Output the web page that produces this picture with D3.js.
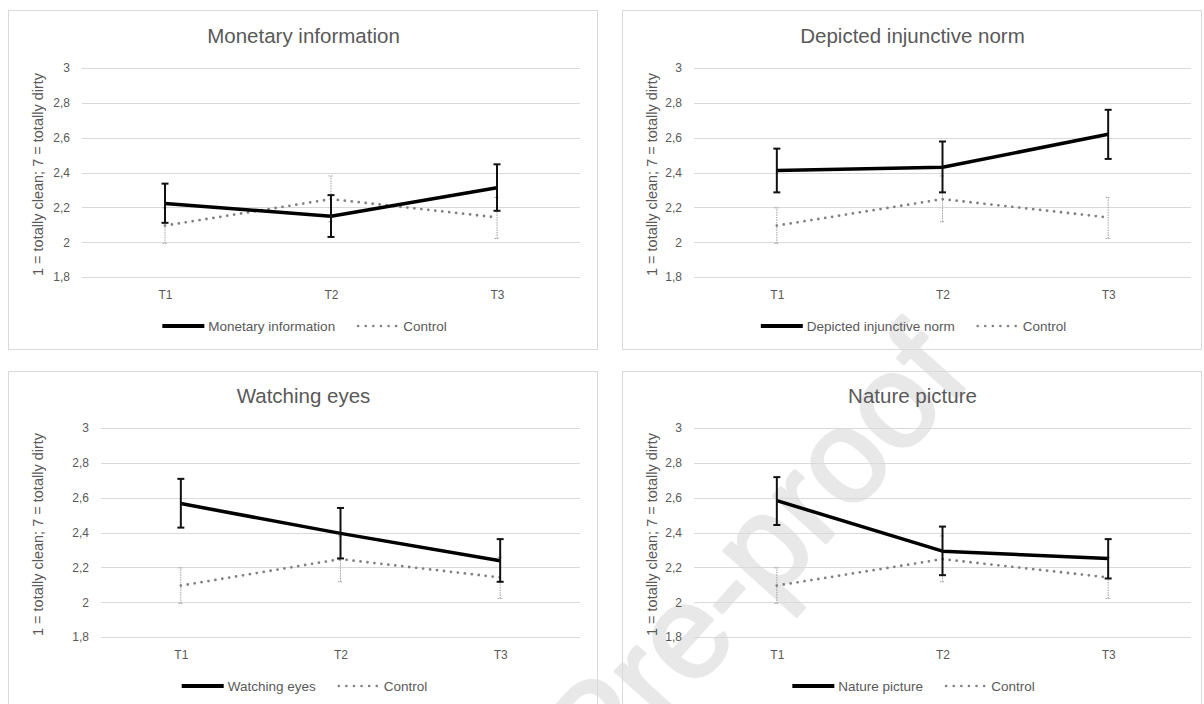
<!DOCTYPE html>
<html>
<head>
<meta charset="utf-8">
<script src="https://cdn.jsdelivr.net/npm/d3@7"></script>
<style>
  body { margin: 0; background: #fff; }
  svg { display: block; font-family: "Liberation Sans", Arial, sans-serif; }
</style>
</head>
<body>
<svg id="chart" width="1204" height="704"></svg>
<script>
var times = ["T1", "T2", "T3"];
var yTicks = [1.8, 2, 2.2, 2.4, 2.6, 2.8, 3];

var controlName = "Control";
var controlMean = [2.095, 2.247, 2.142];
var controlLow = [1.993, 2.117, 2.021];
var controlHigh = [2.197, 2.38, 2.257];

var titles = ["Monetary information", "Depicted injunctive norm", "Watching eyes", "Nature picture"];

var monetaryMean = [2.222, 2.149, 2.313];
var monetaryLow = [2.111, 2.03, 2.18];
var monetaryHigh = [2.336, 2.27, 2.447];

var injunctiveMean = [2.411, 2.43, 2.62];
var injunctiveLow = [2.286, 2.286, 2.478];
var injunctiveHigh = [2.537, 2.578, 2.76];

var eyesMean = [2.566, 2.395, 2.238];
var eyesLow = [2.428, 2.251, 2.117];
var eyesHigh = [2.708, 2.541, 2.362];

var natureMean = [2.583, 2.293, 2.251];
var natureLow = [2.443, 2.155, 2.136];
var natureHigh = [2.718, 2.434, 2.362];

var yLabel = "1 = totally clean; 7 = totally dirty";
var watermark = "Pre-proof";

var seriesSets = [
  [monetaryMean, monetaryLow, monetaryHigh],
  [injunctiveMean, injunctiveLow, injunctiveHigh],
  [eyesMean, eyesLow, eyesHigh],
  [natureMean, natureLow, natureHigh]
];

// panel layout (pixels)
var panels = [
  { bx: 8, by: 10, bw: 589, bh: 339, pl: 82, pr: 580, yl: 38, dy: 0 },
  { bx: 622, by: 10, bw: 579, bh: 339, pl: 694, pr: 1191, yl: 652, dy: 0 },
  { bx: 8, by: 371, bw: 589, bh: 345, pl: 101, pr: 580, yl: 38, dy: 360 },
  { bx: 622, by: 371, bw: 579, bh: 345, pl: 694, pr: 1191, yl: 652, dy: 360 }
];

var textColor = "#595959";
var gridColor = "#d9d9d9";
var svg = d3.select("#chart");

// watermark sits behind the data
var wm = svg.append("g").attr("class", "watermark");

function fmt(v) { return String(v).replace(".", ","); }

panels.forEach(function (p, i) {
  var g = svg.append("g");
  var top = 68 + p.dy, bottom = 277 + p.dy;

  g.append("rect")
    .attr("x", p.bx + 0.5).attr("y", p.by + 0.5)
    .attr("width", p.bw).attr("height", p.bh)
    .attr("fill", "none").attr("stroke", gridColor).attr("stroke-width", 1);

  var x = d3.scalePoint().domain(times).range([p.pl, p.pr]).padding(0.5);
  var y = d3.scaleLinear().domain([1.8, 3]).range([bottom, top]);

  // gridlines
  g.append("g").selectAll("line").data(yTicks).enter().append("line")
    .attr("x1", p.pl).attr("x2", p.pr)
    .attr("y1", function (d) { return Math.round(y(d)) + 0.5; })
    .attr("y2", function (d) { return Math.round(y(d)) + 0.5; })
    .attr("stroke", gridColor).attr("stroke-width", 1.2);

  // y axis
  var yAxis = g.append("g")
    .attr("transform", "translate(" + (p.pl - 12) + ",0)")
    .call(d3.axisLeft(y).tickValues(yTicks).tickSize(0).tickPadding(0).tickFormat(fmt));
  yAxis.select(".domain").remove();
  yAxis.selectAll("text").attr("fill", textColor).style("font-size", "12px")
    .style("font-family", "Liberation Sans, Arial, sans-serif");

  // x axis
  var xAxis = g.append("g")
    .attr("transform", "translate(0," + (bottom + 18) + ")")
    .call(d3.axisBottom(x).tickSize(0).tickPadding(0));
  xAxis.select(".domain").remove();
  xAxis.selectAll("text").attr("fill", textColor).attr("dy", "0.32em").style("font-size", "12px")
    .style("font-family", "Liberation Sans, Arial, sans-serif");

  // y axis title
  g.append("text")
    .attr("transform", "translate(" + p.yl + "," + ((top + bottom) / 2 + 2) + ") rotate(-90)")
    .attr("text-anchor", "middle").attr("dy", "0.35em")
    .attr("fill", textColor).style("font-size", "14.5px")
    .text(yLabel);

  // title
  g.append("text")
    .attr("x", p.bx + p.bw / 2 + 1).attr("y", 43 + p.dy)
    .attr("text-anchor", "middle")
    .attr("fill", textColor).style("font-size", "20.5px")
    .text(titles[i]);

  var line = d3.line()
    .x(function (d, k) { return x(times[k]); })
    .y(function (d) { return y(d); });

  // control series
  var cErr = g.append("g").selectAll("g").data(times).enter().append("g")
    .attr("stroke", "#a0a0a0").attr("stroke-width", 1).attr("stroke-dasharray", "1.5,1");
  cErr.append("line")
    .attr("x1", function (d) { return x(d); }).attr("x2", function (d) { return x(d); })
    .attr("y1", function (d, k) { return y(controlLow[k]); })
    .attr("y2", function (d, k) { return y(controlHigh[k]); });
  cErr.append("line")
    .attr("x1", function (d) { return x(d) - 2.5; }).attr("x2", function (d) { return x(d) + 2.5; })
    .attr("y1", function (d, k) { return y(controlLow[k]); })
    .attr("y2", function (d, k) { return y(controlLow[k]); });
  cErr.append("line")
    .attr("x1", function (d) { return x(d) - 2.5; }).attr("x2", function (d) { return x(d) + 2.5; })
    .attr("y1", function (d, k) { return y(controlHigh[k]); })
    .attr("y2", function (d, k) { return y(controlHigh[k]); });

  g.append("path").datum(controlMean)
    .attr("d", line).attr("fill", "none")
    .attr("stroke", "#808080").attr("stroke-width", 2.8)
    .attr("stroke-linecap", "round").attr("stroke-dasharray", "0,7");

  // treatment series
  var s = seriesSets[i];
  g.append("path").datum(s[0])
    .attr("d", line).attr("fill", "none")
    .attr("stroke", "#000").attr("stroke-width", 3.5)
    .attr("stroke-linejoin", "round");

  var tErr = g.append("g").selectAll("g").data(times).enter().append("g")
    .attr("stroke", "#111").attr("stroke-width", 2);
  tErr.append("line")
    .attr("x1", function (d) { return x(d); }).attr("x2", function (d) { return x(d); })
    .attr("y1", function (d, k) { return y(s[1][k]); })
    .attr("y2", function (d, k) { return y(s[2][k]); });
  tErr.append("line")
    .attr("x1", function (d) { return x(d) - 3.5; }).attr("x2", function (d) { return x(d) + 3.5; })
    .attr("y1", function (d, k) { return y(s[1][k]); })
    .attr("y2", function (d, k) { return y(s[1][k]); });
  tErr.append("line")
    .attr("x1", function (d) { return x(d) - 3.5; }).attr("x2", function (d) { return x(d) + 3.5; })
    .attr("y1", function (d, k) { return y(s[2][k]); })
    .attr("y2", function (d, k) { return y(s[2][k]); });

  // legend, centred in the panel
  var ly = 326 + p.dy;
  var lg = g.append("g");
  lg.append("line").attr("x1", 0).attr("x2", 42).attr("y1", ly).attr("y2", ly)
    .attr("stroke", "#000").attr("stroke-width", 4);
  var t1 = lg.append("text").attr("x", 46).attr("y", ly).attr("dy", "0.35em")
    .attr("fill", textColor).style("font-size", "13.5px").text(titles[i]);
  var w1 = t1.node().getComputedTextLength();
  var cx = 46 + w1 + 22;
  lg.append("line").attr("x1", cx + 1).attr("x2", cx + 40).attr("y1", ly).attr("y2", ly)
    .attr("stroke", "#808080").attr("stroke-width", 2.6)
    .attr("stroke-linecap", "round").attr("stroke-dasharray", "0,7.6");
  var t2 = lg.append("text").attr("x", cx + 46).attr("y", ly).attr("dy", "0.35em")
    .attr("fill", textColor).style("font-size", "13.5px").text(controlName);
  var total = cx + 46 + t2.node().getComputedTextLength();
  lg.attr("transform", "translate(" + (p.bx + p.bw / 2 + 2 - total / 2) + ",0)");
});

// journal watermark
wm.append("text")
  .attr("transform", "translate(762,562) rotate(-48)")
  .attr("text-anchor", "middle").attr("dy", "0.26em")
  .attr("fill", "#e8e8e8").attr("stroke", "#e8e8e8").attr("stroke-width", 3)
  .attr("stroke-linejoin", "round")
  .style("font-size", "133px")
  .text(watermark);
</script>
</body>
</html>
